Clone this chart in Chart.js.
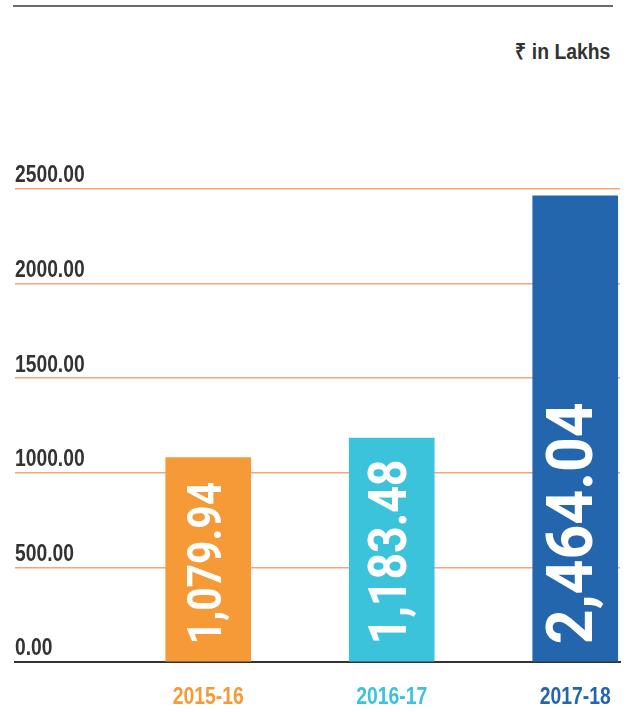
<!DOCTYPE html>
<html>
<head>
<meta charset="utf-8">
<script src="https://cdn.jsdelivr.net/npm/chart.js@4/dist/chart.umd.min.js"></script>
<style>
  body { margin: 0; background: #fff; }
  #wrap { position: relative; width: 633px; height: 712px; }
  #topRule { position: absolute; left: 13px; top: 5px; width: 600px; height: 2px; background: #6b6b6b; }
  #unit { position: absolute; right: 23px; top: 35px; font: bold 22px 'Liberation Sans', Arial, sans-serif; color: #333;
          transform: scaleX(0.88); transform-origin: right center; white-space: nowrap; }
  canvas { position: absolute; left: 0; top: 0; }
</style>
</head>
<body>
<div id="wrap">
  <div id="topRule"></div>
  <div id="unit">₹ in Lakhs</div>
  <canvas id="chart" width="633" height="712"></canvas>
</div>
<script>
// data
const years = ['2015-16', '2016-17', '2017-18'];
const amounts = [1079.94, 1183.48, 2464.04];
const valueLabels = ['1,079.94', '1,183.48', '2,464.04'];
const yTicks = [0, 500, 1000, 1500, 2000, 2500];

const barColors = ['#F59A36', '#3CC3DC', '#2366AE'];
const labelFont = "'Liberation Sans', Arial, sans-serif";

// white value text written upward inside each bar
const barText = {
    id: 'barText',
    afterDatasetsDraw(chart, args, opts) {
        const ctx = chart.ctx;
        const meta = chart.getDatasetMeta(0);
        meta.data.forEach(function(bar, i) {
            ctx.save();
            ctx.font = 'bold ' + opts.sizes[i] + 'px Roboto, sans-serif';
            ctx.fillStyle = '#fff';
            ctx.textBaseline = 'middle';
            ctx.textAlign = 'left';
            ctx.translate(bar.x + 1, bar.base - opts.gap);
            ctx.rotate(-Math.PI / 2);
            ctx.scale(opts.squeeze[i], 1);
            ctx.fillText(valueLabels[i], 0, 0);
            ctx.restore();
        });
    }
};

// condensed axis labels (no narrow font installed, so squeeze a normal one)
const axisText = {
    id: 'axisText',
    afterDraw(chart) {
        const ctx = chart.ctx;
        const x = chart.scales.x, y = chart.scales.y;
        ctx.save();
        ctx.textBaseline = 'middle';
        ctx.font = 'bold 23.5px ' + labelFont;
        ctx.fillStyle = '#333';
        yTicks.forEach(function(v) {
            ctx.save();
            ctx.translate(chart.chartArea.left, y.getPixelForValue(v) - 13);
            ctx.scale(0.82, 1);
            ctx.textAlign = 'left';
            ctx.fillText(v.toFixed(2), 0, 0);
            ctx.restore();
        });
        ctx.font = 'bold 24.5px ' + labelFont;
        years.forEach(function(lab, i) {
            ctx.save();
            ctx.translate(x.getPixelForValue(i), 697);
            ctx.scale(0.79, 1);
            ctx.textAlign = 'center';
            ctx.fillStyle = barColors[i];
            ctx.fillText(lab, 0, 0);
            ctx.restore();
        });
        ctx.restore();
    }
};

new Chart(document.getElementById('chart'), {
    type: 'bar',
    data: {
        datasets: [{
            data: amounts.map((v, i) => ({ x: i, y: v })),
            backgroundColor: barColors,
            barThickness: 85
        }]
    },
    options: {
        responsive: false,
        animation: false,
        events: [],
        layout: { padding: { left: 15, right: 13, top: 189, bottom: 50 } },
        plugins: {
            legend: { display: false },
            tooltip: { enabled: false },
            barText: { sizes: [48, 54, 64], squeeze: [0.85, 0.86, 0.95], gap: 17 }
        },
        scales: {
            x: {
                type: 'linear',
                offset: false,
                min: -1.053,
                max: 2.244,
                afterBuildTicks: axis => { axis.ticks = years.map((y, i) => ({ value: i })); },
                grid: { display: false, drawTicks: false, tickLength: 0 },
                border: { display: true, color: '#333', width: 2 },
                ticks: { display: false }
            },
            y: {
                min: 0,
                max: 2500,
                afterBuildTicks: axis => { axis.ticks = yTicks.map(v => ({ value: v })); },
                grid: {
                    color: c => c.tick.value === 0 ? '#333' : '#F5A47C',
                    lineWidth: 1.5,
                    drawTicks: false,
                    tickLength: 0
                },
                border: { display: false },
                ticks: { display: false }
            }
        }
    },
    plugins: [barText, axisText]
});
</script>
</body>
</html>
